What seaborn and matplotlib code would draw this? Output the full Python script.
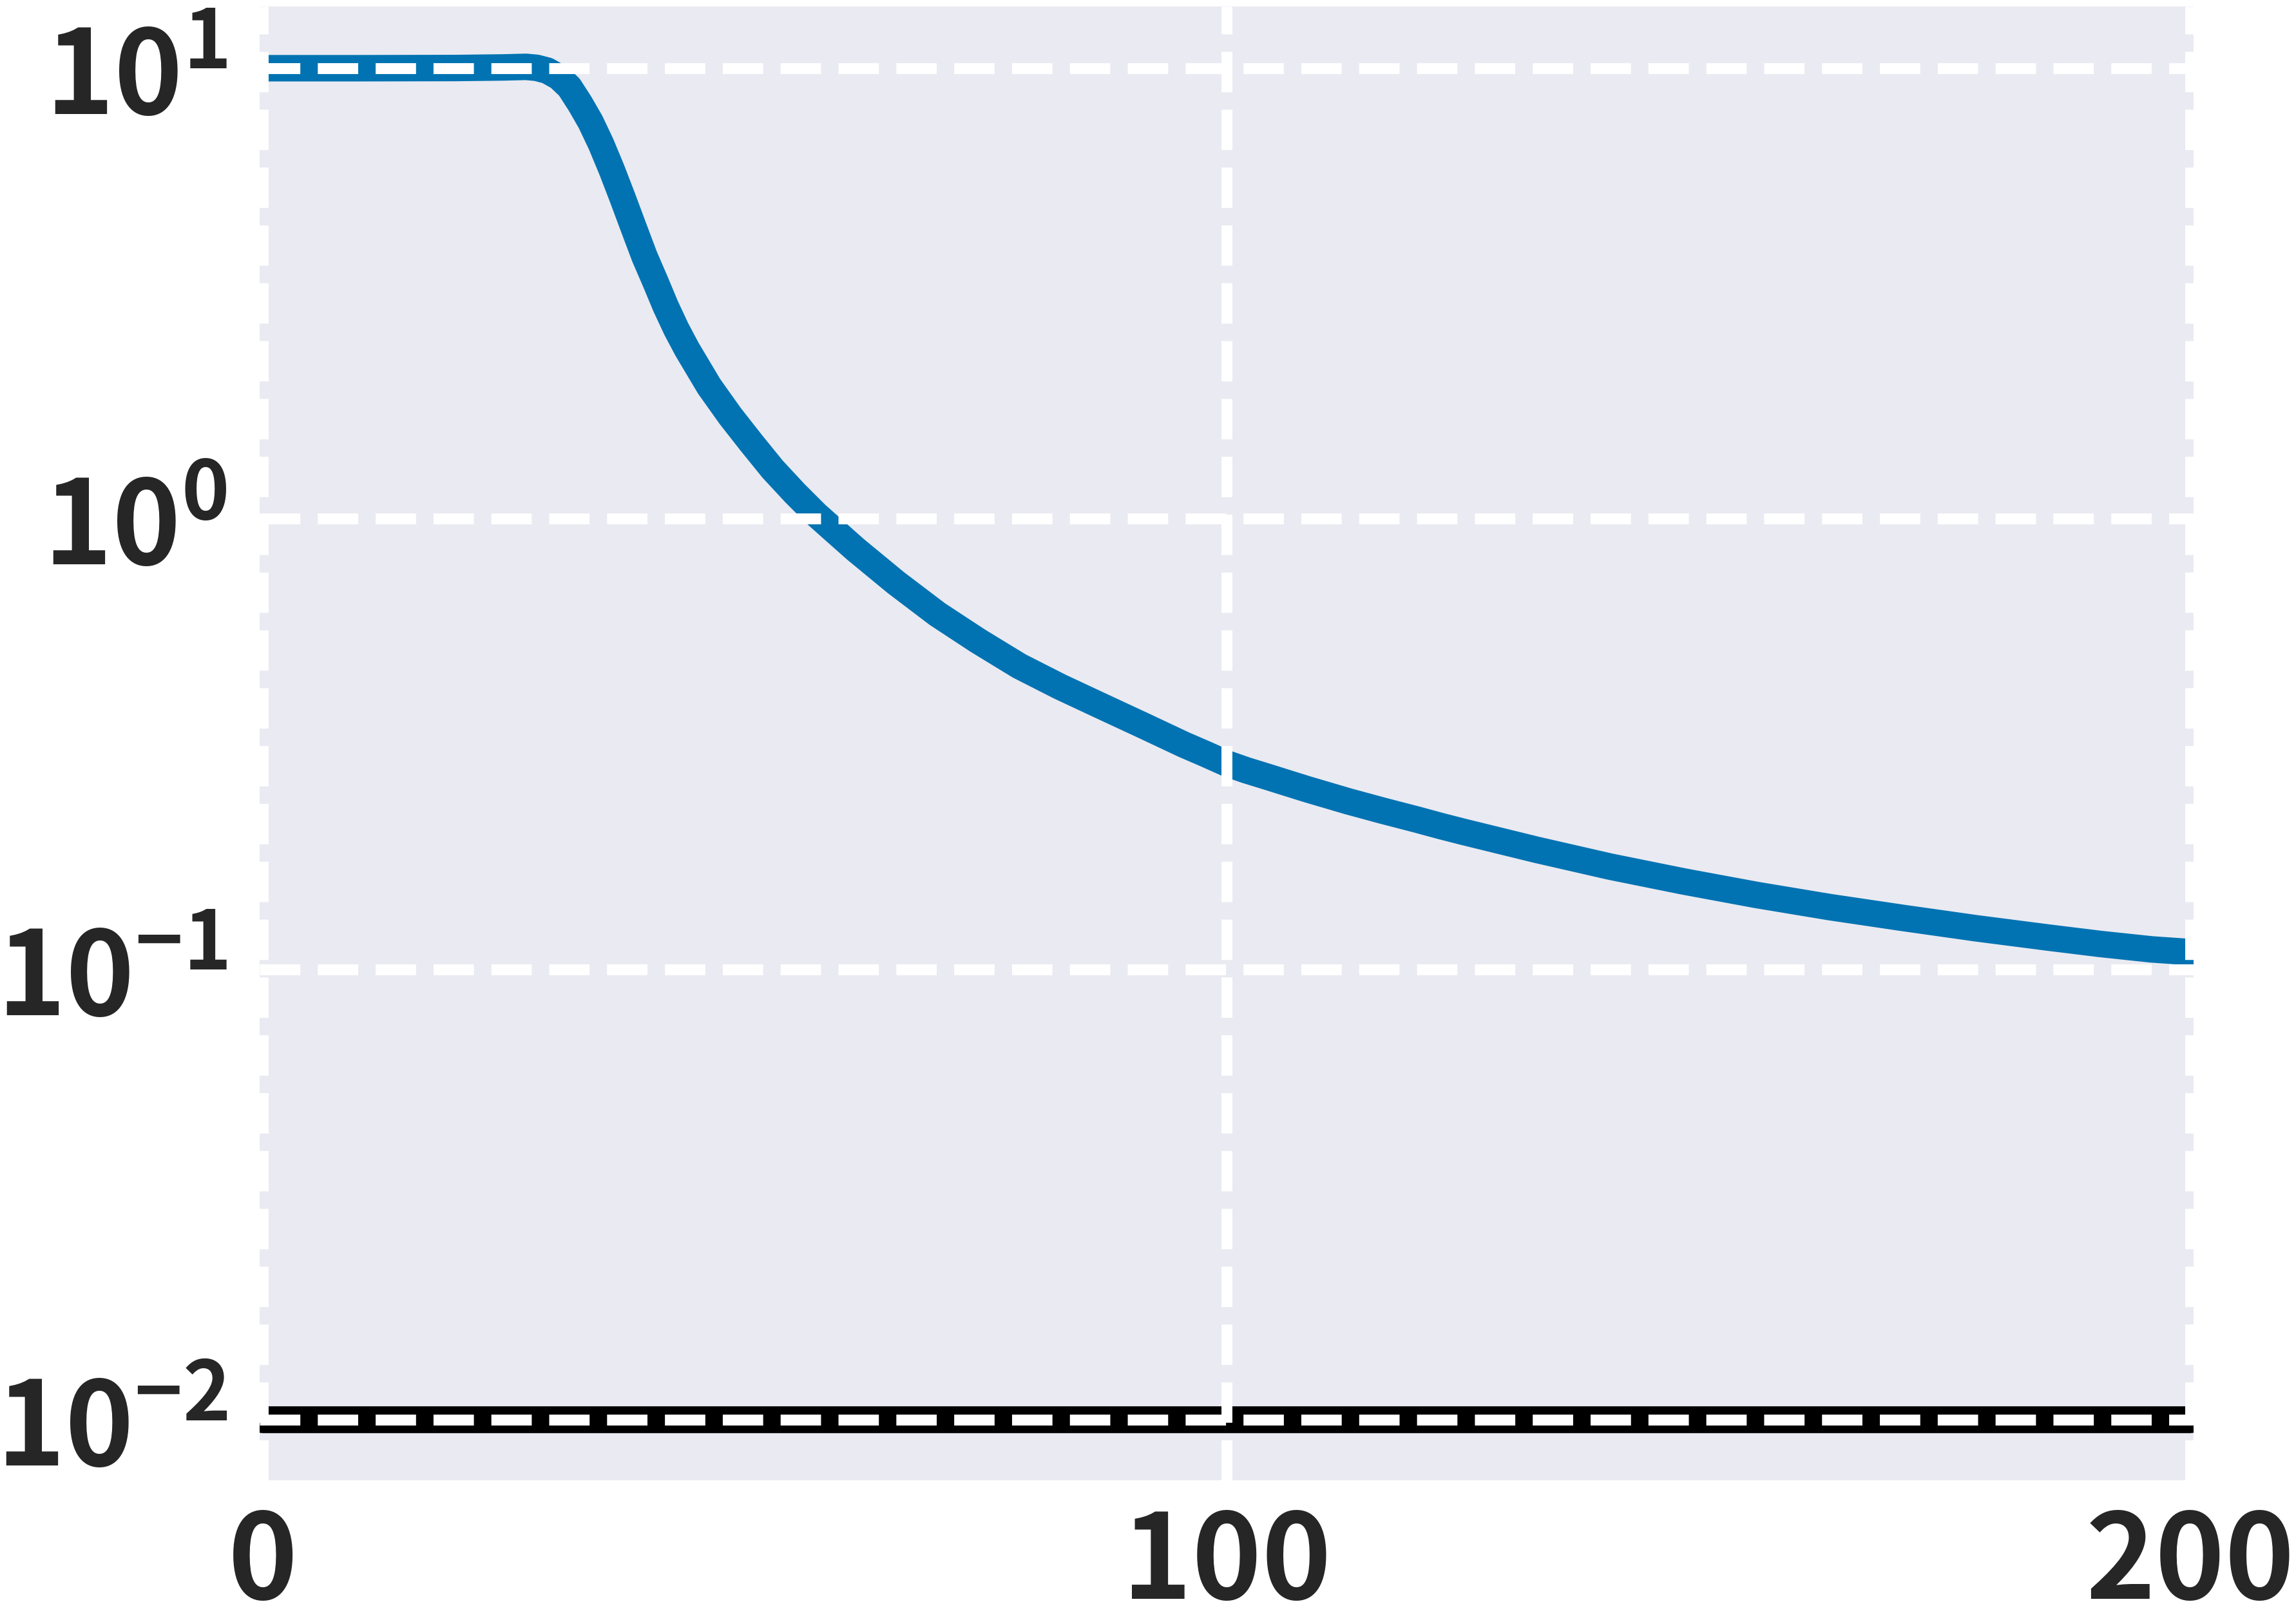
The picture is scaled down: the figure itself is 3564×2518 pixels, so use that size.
import matplotlib
matplotlib.use("Agg")
import matplotlib.pyplot as plt
import numpy as np
import pandas as pd
import seaborn as sns
from matplotlib.ticker import FixedLocator, FuncFormatter, NullLocator

# ---- data ----
x_blue = [0, 10, 20, 25, 27.3, 28.4, 29.5, 30.7, 31.8, 32.9, 34.0, 35.1, 36.2, 37.3,
          38.4, 39.6, 40.7, 41.8, 42.9, 44.0, 46.3, 48.5, 50.7, 52.9, 55.2, 57.4,
          59.5, 61.5, 65.7, 70.0, 74.2, 78.5, 82.7, 87.0, 91.3, 95.6, 97.8, 100.0,
          102.0, 104.1, 108.3, 112.6, 116.2, 119.8, 122.2, 124.6, 132.2, 139.8,
          147.4, 155.0, 162.6, 170.2, 177.8, 185.4, 190.7, 196.0, 200.0]
y_blue = [10.0, 10.0, 10.01, 10.04, 10.07, 10.02, 9.88, 9.56, 9.08, 8.35, 7.60, 6.78,
          5.95, 5.17, 4.47, 3.82, 3.37, 2.96, 2.636, 2.38, 1.968, 1.690, 1.472, 1.288,
          1.140, 1.023, 0.933, 0.855, 0.721, 0.614, 0.536, 0.471, 0.424, 0.384, 0.348,
          0.315, 0.3006, 0.2864, 0.2767, 0.268, 0.2512, 0.236, 0.2249, 0.2148, 0.208,
          0.2018, 0.1841, 0.169, 0.1567, 0.1462, 0.1374, 0.130, 0.1233, 0.1175,
          0.1138, 0.1107, 0.1092]
x_ref = [0, 200]
y_ref = [0.01, 0.01]
x_ticks = [0, 100, 200]
y_ticks = [1e-2, 1e-1, 1e0, 1e1]

blue_df = pd.DataFrame({"x": x_blue, "y": y_blue})
ref_df = pd.DataFrame({"x": x_ref, "y": y_ref})

FONT = "Noto Sans CJK SC"
sns.set_theme(style="darkgrid")
plt.rcParams["font.family"] = [FONT, "DejaVu Sans"]
plt.rcParams["font.weight"] = "bold"
plt.rcParams["mathtext.fontset"] = "custom"
plt.rcParams["mathtext.bf"] = FONT + ":weight=bold"
plt.rcParams["mathtext.rm"] = FONT + ":weight=bold"
plt.rcParams["mathtext.it"] = FONT + ":weight=bold"

fig = plt.figure(figsize=(17.82, 12.59), dpi=200)
ax = fig.add_axes([0.1131, 0.0874, 0.8423, 0.9086])

sns.lineplot(data=blue_df, x="x", y="y", color="#0173B2", linewidth=14.8,
             solid_joinstyle="round", ax=ax)
sns.lineplot(data=ref_df, x="x", y="y", color="black", linewidth=15.0, ax=ax)

ax.set_yscale("log")
ax.set_xlim(-0.33, 200.33)
ax.set_ylim(10 ** -2.134, 10 ** 1.137)

ax.xaxis.set_major_locator(FixedLocator(x_ticks))
ax.yaxis.set_major_locator(FixedLocator(y_ticks))
ax.yaxis.set_minor_locator(NullLocator())
ax.xaxis.set_minor_locator(NullLocator())
ax.yaxis.set_major_formatter(FuncFormatter(lambda v, p: r"$\mathbf{10^{%d}}$" % int(round(np.log10(v)))))
ax.xaxis.set_major_formatter(FuncFormatter(lambda v, p: "%d" % v))

ax.grid(True, which="major", color="white", linestyle="--", linewidth=6.1)
ax.set_axisbelow(False)
for s in ax.spines.values():
    s.set_visible(False)

ax.tick_params(axis="both", length=0, labelcolor="#262626")
ax.tick_params(axis="x", pad=14, labelsize=66)
ax.tick_params(axis="y", pad=18, labelsize=65)
for lab in ax.get_xticklabels() + ax.get_yticklabels():
    lab.set_fontweight("bold")
ax.set_xlabel("")
ax.set_ylabel("")

fig.savefig("out.png", dpi=200, facecolor="white")
